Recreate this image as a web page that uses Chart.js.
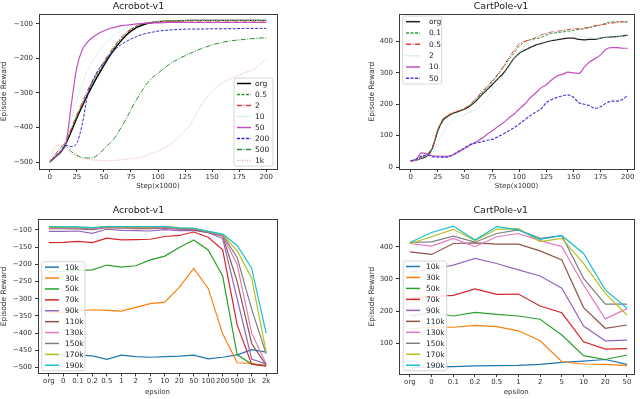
<!DOCTYPE html>
<html>
<head>
<meta charset="utf-8">
<script src="https://cdn.jsdelivr.net/npm/chart.js@4.4.0/dist/chart.umd.min.js"></script>
<style>
  body { margin: 0; background: #fff; width: 640px; height: 399px; position: relative; overflow: hidden; }
  canvas { position: absolute; }
</style>
</head>
<body>
<canvas id="acroStep" width="320" height="200" style="left:0;top:0"></canvas>
<canvas id="cartStep" width="320" height="200" style="left:320px;top:0"></canvas>
<canvas id="acroEps" width="320" height="199" style="left:0;top:200px"></canvas>
<canvas id="cartEps" width="320" height="199" style="left:320px;top:200px"></canvas>
<script>
// ---- data ----
const stepTicks = [0, 25, 50, 75, 100, 125, 150, 175, 200];

// Acrobot-v1, reward vs step
const acroSteps = [0, 5, 10, 15, 20, 25, 30, 35, 40, 45, 50, 55, 60, 65, 70, 75, 80, 85, 90, 95, 100, 110, 120, 130, 140, 150, 160, 170, 180, 190, 200];
const acroStepLabels = ["org", "0.5", "2", "10", "50", "200", "500", "1k"];
const acroOrg = [-500, -485, -472, -445, -410, -372, -338, -305, -275, -247, -220, -195, -172, -152, -135, -121, -111, -104, -99, -96, -94, -92, -91, -90, -90, -90, -90, -90, -90, -90, -90];
const acro05 = [-500, -484, -468, -440, -405, -368, -333, -299, -268, -240, -213, -189, -166, -146, -129, -116, -107, -101, -97, -95, -93, -91, -90, -90, -90, -90, -90, -90, -90, -90, -90];
const acro2 = [-500, -478, -458, -440, -400, -363, -327, -292, -262, -235, -209, -185, -163, -143, -127, -115, -106, -100, -97, -95, -94, -93, -92, -92, -92, -92, -92, -92, -92, -92, -92];
const acro10 = [-500, -483, -465, -432, -375, -320, -275, -235, -205, -182, -162, -146, -133, -122, -113, -106, -101, -98, -96, -94, -93, -92, -91, -91, -91, -91, -91, -91, -91, -91, -91];
const acro50 = [-500, -485, -470, -445, -330, -225, -175, -152, -138, -128, -120, -114, -110, -106, -104, -102, -100, -99, -98, -97, -97, -96, -96, -96, -96, -96, -96, -96, -96, -96, -96];
const acro200 = [-500, -483, -468, -452, -455, -445, -390, -305, -262, -232, -212, -192, -175, -162, -152, -144, -137, -131, -127, -124, -121, -118, -116, -115, -115, -114, -114, -114, -113, -113, -113];
const acro500 = [-500, -485, -470, -455, -470, -480, -487, -488, -487, -478, -462, -447, -430, -405, -378, -348, -320, -295, -272, -255, -243, -218, -200, -185, -172, -161, -153, -148, -145, -142, -140];
const acro1k = [-500, -455, -450, -460, -475, -483, -488, -492, -494, -495, -496, -496, -495, -494, -492, -490, -488, -485, -480, -474, -468, -452, -425, -390, -335, -295, -270, -255, -242, -228, -200];

// CartPole-v1, reward vs step
const cartSteps = [0, 5, 10, 15, 20, 25, 30, 35, 40, 45, 50, 55, 60, 65, 70, 75, 80, 85, 90, 95, 100, 105, 110, 115, 120, 125, 130, 135, 140, 145, 150, 155, 160, 165, 170, 175, 180, 185, 190, 195, 200];
const cartStepLabels = ["org", "0.1", "0.5", "2", "10", "50"];
const cartOrg = [20, 22, 28, 35, 60, 115, 150, 163, 172, 178, 185, 195, 210, 228, 245, 262, 280, 297, 320, 345, 362, 372, 380, 388, 393, 398, 402, 405, 408, 410, 410, 406, 405, 406, 406, 410, 413, 414, 415, 417, 420];
const cart01 = [20, 22, 30, 38, 62, 118, 152, 165, 174, 180, 187, 198, 215, 233, 252, 270, 292, 315, 340, 362, 385, 398, 405, 408, 412, 420, 425, 428, 430, 432, 435, 438, 440, 444, 448, 452, 458, 462, 462, 463, 462];
const cart05 = [20, 22, 32, 40, 65, 120, 155, 167, 175, 180, 188, 200, 218, 237, 255, 275, 295, 318, 345, 370, 392, 400, 405, 412, 420, 425, 430, 432, 435, 437, 440, 440, 442, 445, 450, 452, 455, 458, 460, 462, 460];
const cart2 = [20, 22, 30, 38, 45, 80, 110, 138, 155, 162, 168, 175, 183, 198, 220, 245, 268, 290, 315, 345, 365, 385, 398, 408, 418, 425, 430, 432, 435, 432, 425, 418, 414, 412, 410, 410, 412, 414, 415, 416, 418];
const cart10 = [20, 25, 45, 42, 36, 35, 34, 35, 40, 50, 60, 70, 80, 90, 103, 115, 128, 140, 155, 168, 185, 200, 220, 235, 252, 262, 278, 290, 295, 302, 300, 298, 318, 335, 345, 357, 375, 380, 380, 378, 378];
const cart50 = [20, 25, 35, 38, 33, 32, 31, 33, 42, 52, 62, 72, 77, 80, 85, 88, 96, 105, 115, 125, 137, 150, 163, 175, 185, 205, 215, 222, 227, 230, 222, 205, 200, 195, 187, 192, 203, 210, 210, 215, 228];

// reward vs epsilon, one line per checkpoint
const ckptLabels = ["10k", "30k", "50k", "70k", "90k", "110k", "130k", "150k", "170k", "190k"];
const acroEpsLabels = ["org", "0", "0.1", "0.2", "0.5", "1", "2", "5", "10", "20", "50", "100", "200", "500", "1k", "2k"];
const acroE10k = [-463, -463, -464, -466, -476, -464, -468, -470, -468, -467, -464, -475, -470, -463, -448, -455];
const acroE30k = [-342, -340, -336, -332, -334, -336, -325, -314, -310, -267, -212, -270, -402, -486, -488, -495];
const acroE50k = [-222, -220, -218, -216, -202, -208, -204, -187, -176, -151, -129, -158, -234, -463, -490, -494];
const acroE70k = [-137, -136, -133, -137, -124, -129, -128, -127, -119, -116, -106, -121, -158, -376, -490, -496];
const acroE90k = [-104, -104, -103, -110, -98, -101, -102, -103, -99, -102, -101, -107, -125, -300, -475, -490];
const acroE110k = [-96, -96, -97, -99, -93, -95, -96, -96, -95, -98, -100, -108, -118, -250, -430, -493];
const acroE130k = [-95, -95, -95, -97, -92, -94, -94, -94, -93, -96, -97, -106, -117, -200, -400, -490];
const acroE150k = [-93, -93, -93, -95, -91, -92, -92, -92, -91, -95, -96, -105, -115, -180, -330, -460];
const acroE170k = [-92, -92, -92, -94, -90, -91, -91, -91, -90, -94, -95, -104, -114, -160, -240, -455];
const acroE190k = [-90, -91, -91, -93, -90, -90, -90, -90, -90, -94, -95, -104, -112, -145, -211, -400];

const cartEpsLabels = ["org", "0", "0.1", "0.2", "0.5", "1", "2", "5", "10", "20", "50"];
const cartE10k = [25, 27, 28, 30, 31, 32, 35, 41, 45, 50, 35];
const cartE30k = [145, 150, 150, 156, 152, 139, 108, 43, 36, 35, 31];
const cartE50k = [185, 195, 185, 196, 190, 185, 175, 126, 62, 50, 64];
const cartE70k = [240, 245, 249, 269, 252, 253, 216, 195, 105, 82, 84];
const cartE90k = [322, 330, 343, 364, 348, 328, 309, 271, 154, 108, 110];
const cartE110k = [384, 376, 410, 412, 408, 408, 387, 359, 211, 147, 157];
const cartE130k = [410, 402, 426, 400, 431, 441, 419, 400, 281, 176, 208];
const cartE150k = [413, 415, 433, 414, 441, 452, 426, 434, 302, 222, 222];
const cartE170k = [410, 431, 454, 419, 454, 456, 416, 426, 348, 255, 188];
const cartE190k = [413, 444, 464, 421, 462, 452, 423, 434, 379, 266, 209];

// ---- styles ----
const DASH = [3, 1.5], DASHDOT = [5, 1.5, 1, 1.5], DOT = [1, 1.5];
const tab10 = ["#1f77b4", "#ff7f0e", "#2ca02c", "#d62728", "#9467bd", "#8c564b", "#e377c2", "#7f7f7f", "#bcbd22", "#17becf"];
const TITLE_SIZE = 9.5;

Chart.defaults.font.family = "'DejaVu Sans', sans-serif";
Chart.defaults.font.size = 7;
Chart.defaults.color = "#333";

const minus = (v) => String(v).replace("-", "\u2212");

// frame around plot area + matplotlib-like legend box
const frameLegend = {
  id: "frameLegend",
  afterDatasetsDraw(chart, args, opts) {
    const { ctx, chartArea: a } = chart;
    ctx.save();
    ctx.strokeStyle = "#3c3c3c";
    ctx.lineWidth = 1;
    const l = Math.round(a.left) + 0.5, t = Math.round(a.top) + 0.5;
    ctx.strokeRect(l, t, Math.round(a.right) - Math.round(a.left), Math.round(a.bottom) - Math.round(a.top));
    const lg = opts.legend;
    if (lg) {
      ctx.fillStyle = "rgba(255,255,255,0.85)";
      ctx.strokeStyle = "#d6d6d6";
      ctx.beginPath();
      ctx.roundRect(lg.left, lg.top, lg.width, lg.height, 2);
      ctx.fill();
      ctx.stroke();
      const sets = chart.data.datasets;
      const rowH = lg.height / sets.length;
      sets.forEach((ds, i) => {
        const y = lg.top + rowH * (i + 0.5);
        ctx.strokeStyle = ds.borderColor;
        ctx.lineWidth = 1.5;
        ctx.setLineDash(ds.borderDash || []);
        ctx.beginPath();
        ctx.moveTo(lg.lineX, y);
        ctx.lineTo(lg.lineX + 14, y);
        ctx.stroke();
        ctx.setLineDash([]);
        ctx.fillStyle = "#222";
        ctx.font = "7.5px 'DejaVu Sans'";
        ctx.textBaseline = "middle";
        ctx.fillText(ds.label, lg.textX, y + 0.5);
      });
    }
    ctx.restore();
  }
};

function makeChart(id, c) {
  const canvas = document.getElementById(id);
  const W = canvas.width, H = canvas.height;
  const datasets = c.series.map((vals, i) => ({
    label: c.labels[i],
    data: vals.map((v, j) => ({ x: c.xs[j], y: v })),
    borderColor: c.colors[i],
    borderDash: c.dashes ? c.dashes[i] : [],
    borderWidth: c.widths ? c.widths[i] : 1.2,
    pointRadius: 0,
    tension: c.smooth ? 0.4 : 0,
    cubicInterpolationMode: c.smooth ? "monotone" : "default",
    order: c.series.length - i
  }));
  return new Chart(canvas, {
    type: "line",
    data: { datasets },
    plugins: [frameLegend],
    options: {
      responsive: false,
      animation: false,
      devicePixelRatio: 1,
      layout: { padding: { left: c.padLeft, right: W - c.area.right, top: 0, bottom: 0 } },
      plugins: {
        legend: { display: false },
        tooltip: { enabled: false },
        title: {
          display: true, text: c.title, color: "#222",
          font: { size: TITLE_SIZE, weight: "normal", lineHeight: 1.2 },
          padding: { top: c.titleTop, bottom: c.area.top - c.titleTop - TITLE_SIZE * 1.2 }
        },
        frameLegend: { legend: c.legend }
      },
      scales: {
        x: {
          type: "linear", min: c.xMin, max: c.xMax,
          afterFit: (s) => { s.height = H - c.area.bottom; },
          afterBuildTicks: (s) => { s.ticks = c.xTicks.map((v) => ({ value: v })); },
          grid: { drawOnChartArea: false, drawTicks: true, tickLength: 3, color: "#333" },
          border: { display: false },
          ticks: {
            autoSkip: false, maxRotation: 0, minRotation: 0, padding: 1,
            callback: c.xLabel || ((v) => String(v))
          },
          title: { display: true, text: c.xTitle, font: { size: 7 }, padding: { top: 0, bottom: c.xTitlePad } }
        },
        y: {
          min: c.yMin, max: c.yMax,
          afterFit: (s) => { s.width = c.area.left - c.padLeft; },
          afterBuildTicks: (s) => { s.ticks = c.yTicks.map((v) => ({ value: v })); },
          grid: { drawOnChartArea: false, drawTicks: true, tickLength: 3, color: "#333" },
          border: { display: false },
          ticks: { padding: 3, callback: minus },
          title: { display: true, text: "Episode Reward", font: { size: 7.5 }, padding: 0 }
        }
      }
    }
  });
}

makeChart("acroStep", {
  title: "Acrobot-v1", titleTop: 0.5, xTitle: "Step(x1000)", xTitlePad: 9.5,
  area: { left: 39, right: 277, top: 13.5, bottom: 169 }, padLeft: 0,
  xs: acroSteps, xMin: -10, xMax: 210, xTicks: stepTicks,
  yMin: -520, yMax: -70, yTicks: [-500, -400, -300, -200, -100],
  labels: acroStepLabels,
  series: [acroOrg, acro05, acro2, acro10, acro50, acro200, acro500, acro1k],
  colors: ["#000000", "#2f8f2f", "#e03c3c", "#a8dede", "#c24fc2", "#2a2ad0", "#2f8a2f", "#f2a3a3"],
  dashes: [[], DASH, DASHDOT, DOT, [], DASH, DASHDOT, DOT],
  widths: [1.4, 1, 1, 1, 1.2, 1, 1, 1],
  smooth: true,
  legend: { left: 234, top: 78, width: 39, height: 88, lineX: 237, textX: 255 }
});

makeChart("cartStep", {
  title: "CartPole-v1", titleTop: 0.5, xTitle: "Step(x1000)", xTitlePad: 9.5,
  area: { left: 79, right: 314, top: 14, bottom: 169 }, padLeft: 48,
  xs: cartSteps, xMin: -10.8, xMax: 205.8, xTicks: stepTicks,
  yMin: -6, yMax: 487, yTicks: [0, 100, 200, 300, 400],
  labels: cartStepLabels,
  series: [cartOrg, cart01, cart05, cart2, cart10, cart50],
  colors: ["#222222", "#3a9a3a", "#e03c3c", "#a8dede", "#c24fc2", "#4a3ad6"],
  dashes: [[], DASH, DASHDOT, DOT, [], DASH],
  widths: [1.2, 1, 1, 1, 1.2, 1.2],
  smooth: true,
  legend: { left: 82.7, top: 16, width: 39, height: 68, lineX: 86, textX: 109 }
});

const acroIdx = acroEpsLabels.map((_, i) => i);
makeChart("acroEps", {
  title: "Acrobot-v1", titleTop: 5.2, xTitle: "epsilon", xTitlePad: 2.5,
  area: { left: 38, right: 277, top: 19.3, bottom: 173.4 }, padLeft: 0,
  xs: acroIdx, xMin: -0.75, xMax: 15.75, xTicks: acroIdx,
  xLabel: (v) => acroEpsLabels[v],
  yMin: -517, yMax: -69, yTicks: [-500, -450, -400, -350, -300, -250, -200, -150, -100],
  labels: ckptLabels,
  series: [acroE10k, acroE30k, acroE50k, acroE70k, acroE90k, acroE110k, acroE130k, acroE150k, acroE170k, acroE190k],
  colors: tab10,
  legend: { left: 41.7, top: 61.7, width: 43.3, height: 109, lineX: 45, textX: 65 }
});

const cartIdx = cartEpsLabels.map((_, i) => i);
makeChart("cartEps", {
  title: "CartPole-v1", titleTop: 5.2, xTitle: "epsilon", xTitlePad: 2.5,
  area: { left: 79, right: 313.5, top: 19, bottom: 174 }, padLeft: 48,
  xs: cartIdx, xMin: -0.5, xMax: 10.3, xTicks: cartIdx,
  xLabel: (v) => cartEpsLabels[v],
  yMin: 5, yMax: 486, yTicks: [100, 200, 300, 400],
  labels: ckptLabels,
  series: [cartE10k, cartE30k, cartE50k, cartE70k, cartE90k, cartE110k, cartE130k, cartE150k, cartE170k, cartE190k],
  colors: tab10,
  legend: { left: 83.3, top: 61, width: 43.4, height: 109.7, lineX: 86, textX: 106 }
});
</script>
</body>
</html>
